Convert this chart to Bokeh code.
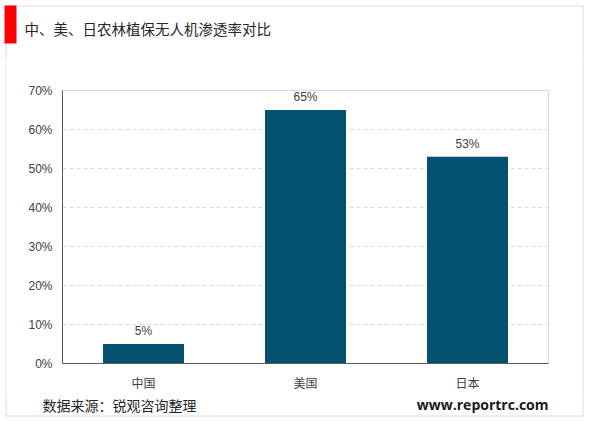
from bokeh.plotting import figure
from bokeh.layouts import column, row
from bokeh.core.properties import value
from bokeh.models import (ColumnDataSource, FactorRange, Range1d, PrintfTickFormatter, LabelSet)
from bokeh.embed import file_html
from bokeh.resources import INLINE

categories = ["中国", "美国", "日本"]
values = [5, 65, 53]
value_labels = ["5%", "65%", "53%"]
y_ticks = [0, 10, 20, 30, 40, 50, 60, 70]

title_text = "中、美、日农林植保无人机渗透率对比"
source_text = "数据来源：锐观咨询整理"
site_text = "www.reportrc.com"

W = 584
HH, MH, FH = 60, 333, 24
SW = 6
BORDER = "#dcdcdc"


def blank(w, h):
    f = figure(width=w, height=h, output_backend="svg", toolbar_location=None,
               x_range=Range1d(0, w), y_range=Range1d(h, 0),
               min_border=0, min_border_left=0, min_border_right=0,
               min_border_top=0, min_border_bottom=0)
    f.axis.visible = False
    f.grid.visible = False
    f.outline_line_color = None
    f.background_fill_color = "white"
    f.border_fill_color = "white"
    return f

# header
hdr = blank(W, HH)
hdr.line([5.5, 5.5], [5, HH], line_color=BORDER, line_width=1)
hdr.line([5, W - 1], [5.5, 5.5], line_color=BORDER, line_width=1)
hdr.line([W - 1.5, W - 1.5], [5, HH], line_color=BORDER, line_width=1)
hdr.quad(left=4, right=16, top=5, bottom=43, fill_color="#ff0000", line_color=None)
hdr.text(x=[24], y=[28], text=[title_text], text_font=value("Noto Sans CJK SC"),
         text_font_size=value("14.5px"), text_color="#262626", text_baseline="middle")

# side strips carrying the outer frame
lstrip = blank(SW, MH)
lstrip.line([5.5, 5.5], [0, MH], line_color=BORDER, line_width=1)
rstrip = blank(SW, MH)
rstrip.line([SW - 1.5, SW - 1.5], [0, MH], line_color=BORDER, line_width=1)

# main chart
PW = W - 2 * SW
src = ColumnDataSource(dict(cat=categories, val=values, lab=value_labels))
p = figure(width=PW, height=MH, output_backend="svg", toolbar_location=None,
           x_range=FactorRange(*categories, range_padding=0),
           y_range=Range1d(0, 70),
           min_border_left=62 - SW, min_border_right=(W - SW) - 548,
           min_border_top=30, min_border_bottom=30)
p.background_fill_color = "white"
p.border_fill_color = "white"
p.outline_line_color = "#d9d9d9"

p.vbar(x="cat", top="val", width=0.5, source=src, fill_color="#03506F", line_color=None)

labels = LabelSet(x="cat", y="val", text="lab", source=src, text_align="center",
                  text_baseline="bottom", y_offset=6, text_font_size=value("12px"),
                  text_font=value("Liberation Sans"), text_color="#404040")
p.add_layout(labels)

p.yaxis.ticker = y_ticks
p.yaxis.formatter = PrintfTickFormatter(format="%d%%")
p.yaxis.major_tick_out = 0
p.yaxis.major_tick_in = 0
p.yaxis.minor_tick_out = 0
p.yaxis.minor_tick_in = 0
p.yaxis.axis_line_color = "#595959"
p.yaxis.major_label_text_font = "Liberation Sans"
p.yaxis.major_label_text_font_size = "12px"
p.yaxis.major_label_text_color = "#404040"
p.yaxis.major_label_standoff = 10

p.xaxis.major_tick_out = 0
p.xaxis.major_tick_in = 0
p.xaxis.minor_tick_out = 0
p.xaxis.minor_tick_in = 0
p.xaxis.axis_line_color = "#595959"
p.xaxis.major_label_text_font = "Noto Sans CJK SC"
p.xaxis.major_label_text_font_size = "12px"
p.xaxis.major_label_text_color = "#404040"
p.xaxis.major_label_standoff = 10

p.xgrid.grid_line_color = None
p.ygrid.grid_line_color = "#d9d9d9"
p.ygrid.grid_line_dash = "4 3"

# footer
ftr = blank(W, FH)
ftr.line([5.5, 5.5], [0, FH - 1], line_color=BORDER, line_width=1)
ftr.line([5, W - 1], [FH - 1.5, FH - 1.5], line_color=BORDER, line_width=1)
ftr.line([W - 1.5, W - 1.5], [0, FH - 1], line_color=BORDER, line_width=1)
ftr.text(x=[42], y=[11], text=[source_text], text_font=value("Noto Sans CJK SC"),
         text_font_size=value("14px"), text_color="#262626", text_baseline="middle")
ftr.text(x=[548], y=[11], text=[site_text], text_font=value("Open Sans"),
         text_font_size=value("14px"), text_font_style="bold", text_color="#1a1a1a",
         text_align="right", text_baseline="middle")

layout = column(row(hdr), row(column(lstrip), p, column(rstrip)), row(ftr), spacing=0)
open("out.html", "w").write(file_html(layout, INLINE))
